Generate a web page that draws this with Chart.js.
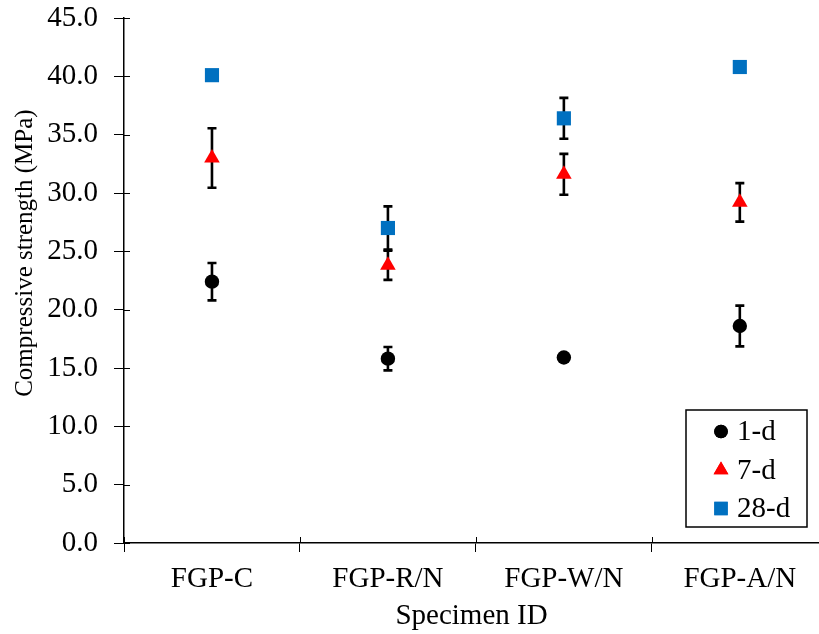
<!DOCTYPE html>
<html>
<head>
<meta charset="utf-8">
<script src="https://cdn.jsdelivr.net/npm/chart.js@4"></script>
<style>
  html, body { margin: 0; padding: 0; background: #fff; overflow: hidden; }
  #wrap { width: 819px; height: 634px; }
</style>
</head>
<body>
<div id="wrap"><canvas id="chart"></canvas></div>
<script>
const specimens = ['FGP-C', 'FGP-R/N', 'FGP-W/N', 'FGP-A/N'];
const seriesNames = ['1-d', '7-d', '28-d'];
const day1 = [22.4, 15.8, 15.9, 18.6];
const day1Err = [1.6, 1.0, 0.3, 1.75];
const day7 = [33.0, 23.8, 31.6, 29.2];
const day7Err = [2.55, 1.25, 1.75, 1.65];
const day28 = [40.1, 27.0, 36.4, 40.8];
const day28Err = [0.3, 1.85, 1.75, 0.3];
const yTicks = [0, 5, 10, 15, 20, 25, 30, 35, 40, 45];
const yTitle = 'Compressive strength (MPa)';

const FONT = "'Liberation Serif', 'Times New Roman', serif";

// points sit in the middle of each category slot
const pts = vals => vals.map((v, i) => ({ x: i + 0.5, y: v }));

const styles = [
  { color: '#000000', pointStyle: 'circle', radius: 7.2 },
  { color: '#FF0000', pointStyle: 'triangle', radius: 9 },
  { color: '#0070C0', pointStyle: 'rect', radius: 10 }
];
const values = [day1, day7, day28];
const errors = [day1Err, day7Err, day28Err];

// error bars, drawn under the markers
const errorBars = {
  id: 'errorBars',
  beforeDatasetsDraw(chart) {
    const { ctx, scales: { x, y } } = chart;
    ctx.save();
    ctx.strokeStyle = '#000';
    ctx.lineWidth = 2.6;
    chart.data.datasets.forEach(ds => {
      ds.data.forEach((p, i) => {
        const e = ds.errors[i];
        const px = x.getPixelForValue(p.x);
        const top = y.getPixelForValue(p.y + e);
        const bot = y.getPixelForValue(p.y - e);
        ctx.beginPath();
        ctx.moveTo(px, top); ctx.lineTo(px, bot);
        ctx.moveTo(px - 4.5, top); ctx.lineTo(px + 4.5, top);
        ctx.moveTo(px - 4.5, bot); ctx.lineTo(px + 4.5, bot);
        ctx.stroke();
      });
    });
    ctx.restore();
  }
};

// ticks crossing the axis lines (inner part) + rotated y title sitting a bit above centre
const axisExtras = {
  id: 'axisExtras',
  afterDraw(chart) {
    const { ctx, chartArea: a, scales: { x, y } } = chart;
    ctx.save();
    ctx.strokeStyle = '#000';
    ctx.lineWidth = 1;
    y.ticks.forEach(t => {
      const py = Math.round(y.getPixelForValue(t.value)) + 0.5;
      ctx.beginPath(); ctx.moveTo(a.left, py); ctx.lineTo(a.left + 6, py); ctx.stroke();
    });
    x.ticks.forEach(t => {
      if (!Number.isInteger(t.value)) return;
      const px = Math.round(x.getPixelForValue(t.value)) + 0.5;
      ctx.beginPath(); ctx.moveTo(px, a.bottom); ctx.lineTo(px, a.bottom - 6); ctx.stroke();
    });
    ctx.translate(25, y.getPixelForValue(24.85));
    ctx.rotate(-Math.PI / 2);
    ctx.font = '25px ' + FONT;
    ctx.fillStyle = '#000';
    ctx.textAlign = 'center';
    ctx.textBaseline = 'middle';
    ctx.fillText(yTitle, 0, 0);
    ctx.restore();
  }
};

// boxed legend in the lower right of the plot
const boxLegend = {
  id: 'boxLegend',
  afterDraw(chart) {
    const { ctx, chartArea: a } = chart;
    const w = 121, h = 117, rowH = 38.5;
    const left = a.right - 133, top = a.bottom - 133;
    ctx.save();
    ctx.fillStyle = '#fff';
    ctx.fillRect(left, top, w, h);
    ctx.strokeStyle = '#000';
    ctx.lineWidth = 1.5;
    ctx.strokeRect(left, top, w, h);
    ctx.font = '29px ' + FONT;
    ctx.textBaseline = 'middle';
    chart.data.datasets.forEach((ds, i) => {
      const cy = top + 21.5 + i * rowH;
      ctx.fillStyle = ds.backgroundColor;
      Chart.helpers.drawPoint(ctx, {
        pointStyle: ds.pointStyle, radius: ds.pointRadius * 0.95, rotation: 0, borderWidth: 0
      }, left + 35, cy);
      ctx.fill();
      ctx.fillStyle = '#000';
      ctx.fillText(ds.label, left + 51, cy + 1);
    });
    ctx.restore();
  }
};

new Chart(document.getElementById('chart'), {
  type: 'scatter',
  data: {
    datasets: seriesNames.map((name, i) => ({
      label: name,
      data: pts(values[i]),
      errors: errors[i],
      backgroundColor: styles[i].color,
      borderColor: styles[i].color,
      borderWidth: 0,
      pointStyle: styles[i].pointStyle,
      pointRadius: styles[i].radius,
      pointHoverRadius: styles[i].radius
    }))
  },
  options: {
    responsive: true,
    maintainAspectRatio: false,
    animation: false,
    clip: false,
    layout: { autoPadding: false, padding: { top: 18, right: 0, left: 0, bottom: 0 } },
    plugins: { legend: { display: false }, tooltip: { enabled: false } },
    scales: {
      x: {
        type: 'linear',
        min: 0,
        max: 3.95,
        afterBuildTicks: s => {
          // integer ticks = slot borders, half ticks = labels, 3.95 = blank end
          s.ticks = [0, 0.5, 1, 1.5, 2, 2.5, 3, 3.5, 3.95].map(v => ({ value: v }));
        },
        afterFit: s => {
          s.height = 91;
          s.paddingLeft = 0; s.paddingRight = 0;
        },
        border: { color: '#000', width: 1.5 },
        grid: {
          drawOnChartArea: false,
          tickLength: 9,
          tickColor: c => Number.isInteger(c.tick.value) ? '#000' : 'rgba(0,0,0,0)'
        },
        ticks: {
          autoSkip: false,
          maxRotation: 0,
          padding: 10,
          color: '#000',
          font: { family: FONT, size: 29 },
          callback: v => (v % 1 === 0.5) ? specimens[Math.floor(v)] : ''
        },
        title: {
          display: true,
          text: 'Specimen ID',
          color: '#000',
          font: { family: FONT, size: 29 },
          padding: { top: 0, bottom: 0 }
        }
      },
      y: {
        min: 0,
        max: 45,
        afterBuildTicks: s => { s.ticks = yTicks.map(v => ({ value: v })); },
        afterFit: s => {
          s.width = 124;
          s.paddingTop = 0; s.paddingBottom = 0;
        },
        border: { color: '#000', width: 1.5 },
        grid: { drawOnChartArea: false, tickLength: 10, tickColor: '#000' },
        ticks: {
          padding: 16,
          color: '#000',
          font: { family: FONT, size: 29 },
          callback: v => v.toFixed(1)
        }
      }
    }
  },
  plugins: [errorBars, axisExtras, boxLegend]
});
</script>
</body>
</html>
